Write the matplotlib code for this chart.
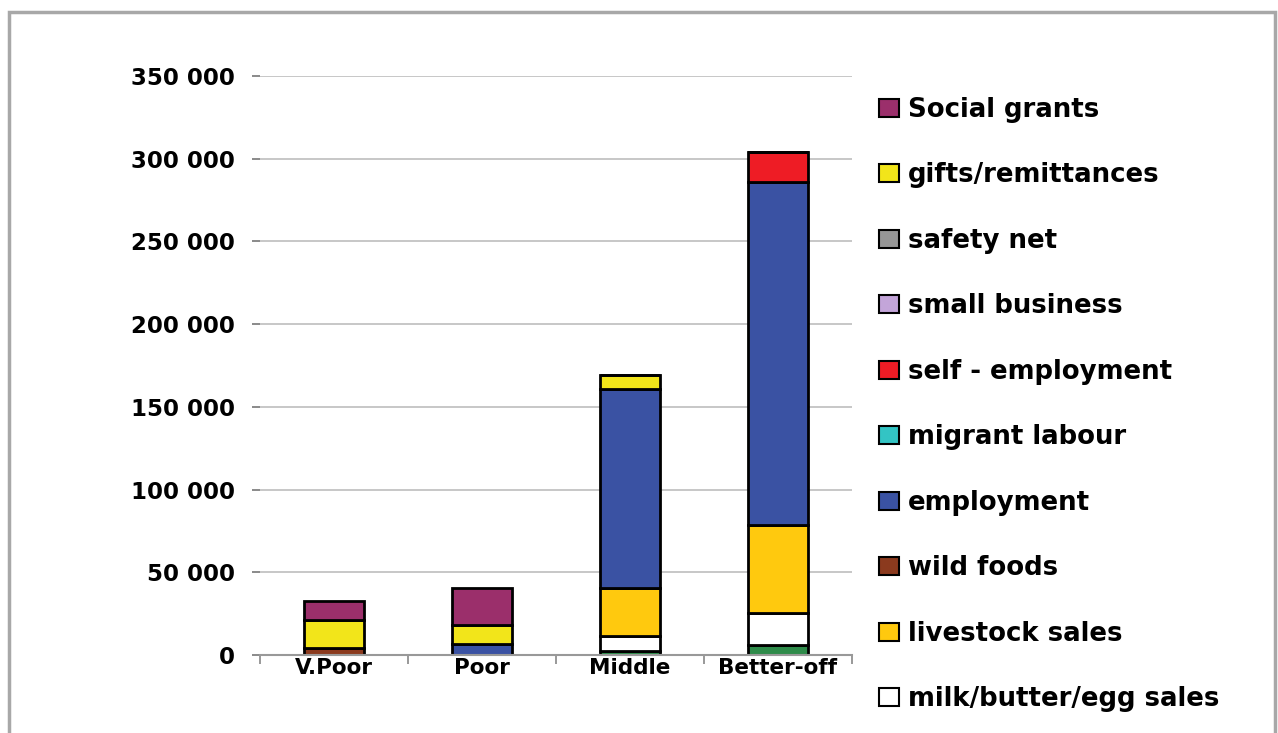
import matplotlib
matplotlib.use("Agg")
import matplotlib.pyplot as plt
from matplotlib.patches import Rectangle, Patch
import numpy as np

groups = ["V.Poor", "Poor", "Middle", "Better-off"]

# stacked from bottom to top
series_names = ["crop sales", "milk/butter/egg sales", "livestock sales", "wild foods",
                "employment", "migrant labour", "self - employment", "small business",
                "safety net", "gifts/remittances", "Social grants"]
crop_sales     = [0, 0, 2500, 6000]
milk_sales     = [0, 0, 9000, 19400]
livestock      = [0, 0, 29000, 53300]
wild_foods     = [4000, 0, 0, 0]
employment     = [0, 6500, 120300, 207000]
migrant        = [0, 0, 0, 0]
self_employ    = [0, 0, 0, 18200]
small_business = [0, 0, 0, 0]
safety_net     = [0, 0, 0, 0]
gifts          = [17000, 11500, 8300, 0]
social_grants  = [11500, 22400, 0, 0]
values = [crop_sales, milk_sales, livestock, wild_foods, employment, migrant,
          self_employ, small_business, safety_net, gifts, social_grants]
colors = ["#2E8B4A", "#FFFFFF", "#FFC90E", "#8B3A1E", "#3A52A3", "#33C4C4",
          "#EE1C25", "#C3A5D9", "#969696", "#F2E51A", "#9B2F6B"]
yticks = [0, 50000, 100000, 150000, 200000, 250000, 300000, 350000]
ytick_labels = ["0", "50 000", "100 000", "150 000", "200 000", "250 000", "300 000", "350 000"]

plt.rcParams['font.family'] = ['DejaVu Sans']
fig = plt.figure(figsize=(12.78, 7.33), dpi=100)
W, H = 1278, 733
ax = fig.add_axes([260 / W, (H - 655) / H, 592 / W, (655 - 76) / H])

x = np.arange(len(groups))
bottom = np.zeros(len(groups))
handles = []
for name, vals, c in zip(series_names, values, colors):
    v = np.array(vals, dtype=float)
    ax.bar(x, v, bottom=bottom, width=0.41, color=c, edgecolor="black",
           linewidth=2, zorder=3)
    bottom += v
    if name != "crop sales":
        handles.append(Patch(facecolor=c, edgecolor="black", linewidth=1.5, label=name))

ax.set_xlim(-0.5, len(groups) - 0.5)
ax.set_ylim(0, 350000)
ax.set_yticks(yticks)
ax.set_yticklabels(ytick_labels, fontsize=16.5, fontweight="bold")
ax.set_xticks(x)
ax.set_xticklabels(groups, fontsize=15.5, fontweight="bold")
ax.set_xticks(np.arange(-0.5, len(groups), 1.0), minor=True)
ax.tick_params(axis="x", which="major", length=0, pad=2)
ax.tick_params(axis="x", which="minor", length=6.5, color="#888888", width=1.2)
ax.tick_params(axis="y", which="major", length=6, color="#777777", width=1.2, pad=12)
ax.yaxis.grid(True, color="#BDBDBD", linewidth=1.2, zorder=0)
for s in ["left", "right", "top"]:
    ax.spines[s].set_visible(False)
ax.spines["bottom"].set_color("#999999")
ax.spines["bottom"].set_linewidth(1.5)
ax.spines["bottom"].set_zorder(4)

leg = fig.legend(handles=handles[::-1], loc="upper left",
                 bbox_to_anchor=(879 / W, 1 - 97 / H), frameon=False,
                 prop={"size": 18.7, "weight": "bold"}, labelspacing=1.52,
                 handlelength=0.78, handleheight=0.7, handletextpad=0.35,
                 borderpad=0, borderaxespad=0)

fig.patches.append(Rectangle((9 / W, -0.05), (1275 - 9) / W, 1.05 - 12 / H,
                             transform=fig.transFigure, fill=False,
                             edgecolor="#A8A8A8", linewidth=2.5))

fig.savefig("out.png", dpi=100)
